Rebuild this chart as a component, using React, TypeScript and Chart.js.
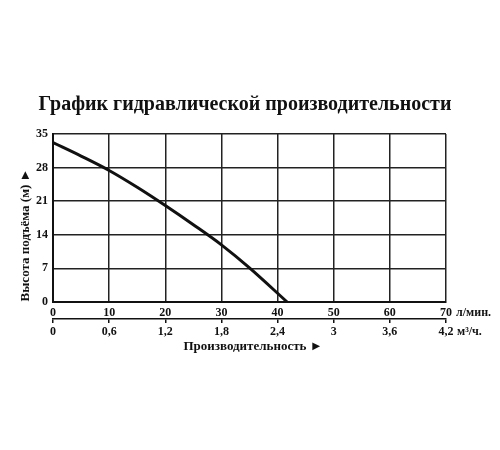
import { useEffect, useRef } from 'react';
import { Chart, registerables } from 'chart.js';

Chart.register(...registerables);

// Pump curve (flow in l/min, head in m)
const flowLpm = [0, 5, 10, 15, 20, 25, 30, 35, 41.7];
const headM = [33.2, 30.4, 27.4, 23.9, 20.1, 16.1, 11.9, 7.1, 0];

// Tick labels
const lpmTicks = ['0', '10', '20', '30', '40', '50', '60', '70'];
const m3hTicks = ['0', '0,6', '1,2', '1,8', '2,4', '3', '3,6', '4,2'];
const headTicks = ['0', '7', '14', '21', '28', '35'];

const chartTitle = 'График гидравлической производительности';
const yTitle = 'Высота подъёма (м) ►';
const xTitle = 'Производительность ►';
const lpmUnit = 'л/мин.';
const m3hUnit = 'м³/ч.';

const FONT = '"Liberation Serif", "Times New Roman", serif';

// Draws the title, axis captions and the unit labels beside the last ticks
const captionsPlugin = {
  id: 'captions',
  afterDraw(chart: Chart) {
    const { ctx } = chart;
    const xs = chart.scales.x;
    ctx.save();
    ctx.fillStyle = '#111';

    ctx.font = `bold 20px ${FONT}`;
    ctx.textAlign = 'center';
    ctx.textBaseline = 'middle';
    ctx.fillText(chartTitle, 245, 105);

    ctx.font = `bold 13px ${FONT}`;
    ctx.fillText(xTitle, 253, 347);

    ctx.save();
    ctx.translate(26, 235);
    ctx.rotate(-Math.PI / 2);
    ctx.fillText(yTitle, 0, 0);
    ctx.restore();

    ctx.font = `bold 12px ${FONT}`;
    ctx.textAlign = 'left';
    const right = xs.getPixelForValue(70);
    ctx.fillText(lpmUnit, right + 10, 313);
    ctx.fillText(m3hUnit, right + 11, 332);
    ctx.restore();
  },
};

export default function App() {
  const canvasRef = useRef<HTMLCanvasElement>(null);
  const chartRef = useRef<Chart | null>(null);

  useEffect(() => {
    document.body.style.margin = '0';
    if (!canvasRef.current) return;

    if (chartRef.current) {
      chartRef.current.destroy();
      chartRef.current = null;
    }

    const tickFont = { family: FONT, size: 12, weight: 'bold' as const };

    chartRef.current = new Chart(canvasRef.current, {
      type: 'line',
      data: {
        datasets: [
          {
            data: flowLpm.map((x, i) => ({ x, y: headM[i] })),
            borderColor: '#111',
            borderWidth: 3,
            pointRadius: 0,
            tension: 0.35,
            fill: false,
          },
        ],
      },
      options: {
        animation: false,
        responsive: true,
        maintainAspectRatio: false,
        layout: { padding: { top: 134, right: 54, bottom: 111, left: 0 } },
        plugins: {
          legend: { display: false },
          tooltip: { enabled: false },
        },
        scales: {
          x: {
            type: 'linear',
            position: 'bottom',
            min: 0,
            max: 70,
            afterBuildTicks: (scale) => {
              scale.ticks = lpmTicks.map((_, i) => ({ value: i * 10 }));
            },
            afterFit: (scale) => {
              scale.height = 17;
            },
            ticks: {
              color: '#111',
              font: tickFont,
              padding: 4,
              maxRotation: 0,
              callback: (_v, i) => lpmTicks[i],
            },
            grid: { color: '#222', lineWidth: 1.5, drawTicks: false },
            border: { color: '#111', width: 2 },
          },
          x2: {
            type: 'linear',
            position: 'bottom',
            min: 0,
            max: 70,
            afterBuildTicks: (scale) => {
              scale.ticks = m3hTicks.map((_, i) => ({ value: i * 10 }));
            },
            afterFit: (scale) => {
              scale.height = 20;
            },
            ticks: {
              color: '#111',
              font: tickFont,
              padding: 2,
              maxRotation: 0,
              callback: (_v, i) => m3hTicks[i],
            },
            grid: {
              drawOnChartArea: false,
              drawTicks: true,
              tickLength: 4,
              color: '#111',
              lineWidth: 1.5,
            },
            border: { color: '#111', width: 1.5 },
          },
          y: {
            type: 'linear',
            min: 0,
            max: 35,
            afterBuildTicks: (scale) => {
              scale.ticks = headTicks.map((_, i) => ({ value: i * 7 }));
            },
            afterFit: (scale) => {
              scale.width = 53;
            },
            ticks: {
              color: '#111',
              font: tickFont,
              padding: 5,
              callback: (_v, i) => headTicks[i],
            },
            grid: { color: '#222', lineWidth: 1.5, drawTicks: false },
            border: { color: '#111', width: 2 },
          },
        },
      },
      plugins: [captionsPlugin],
    });

    return () => {
      if (chartRef.current) {
        chartRef.current.destroy();
        chartRef.current = null;
      }
    };
  }, []);

  return (
    <div style={{ position: 'relative', width: 500, height: 450, background: '#fff' }}>
      <canvas ref={canvasRef} />
    </div>
  );
}
